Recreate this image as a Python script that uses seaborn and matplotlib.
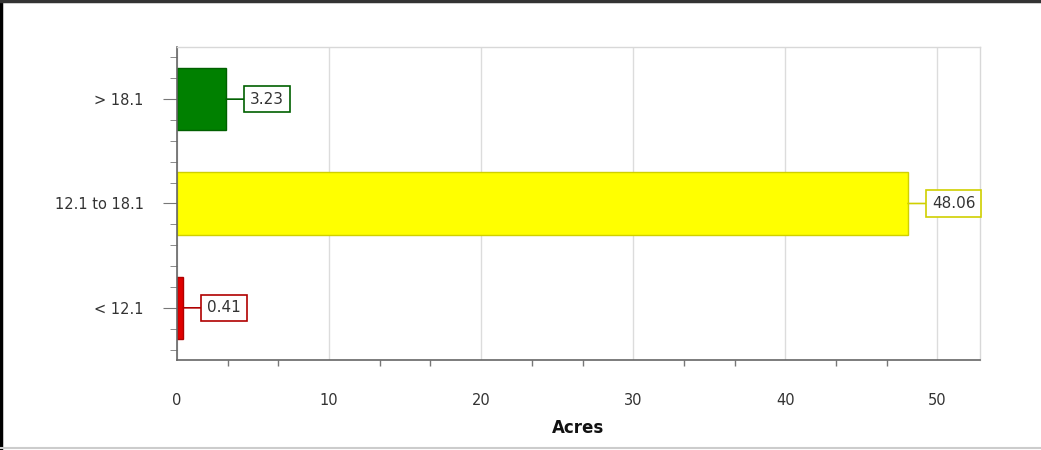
import pandas as pd
import seaborn as sns
import matplotlib.pyplot as plt
from matplotlib.lines import Line2D
from matplotlib.ticker import MultipleLocator

categories = ['> 18.1', '12.1 to 18.1', '< 12.1']
acres = [3.23, 48.06, 0.41]
bar_colors = ['#008000', '#ffff00', '#e00000']
edge_colors = ['#006000', '#d0d000', '#b00000']

df = pd.DataFrame({'cat': categories, 'acres': acres})

sns.set_style('white')
plt.rcParams['font.family'] = ['DejaVu Sans']

fig = plt.figure(figsize=(10.41, 4.5), dpi=100)
ax = fig.add_axes([0.170, 0.2, 0.7714, 0.6956])

sns.barplot(data=df, y='cat', x='acres', hue='cat', palette=bar_colors,
            orient='h', width=0.6, legend=False, ax=ax, saturation=1)

for bar, ec in zip(ax.patches, edge_colors):
    bar.set_edgecolor(ec)
    bar.set_linewidth(1)

for i, (v, fc, ec) in enumerate(zip(acres, bar_colors, edge_colors)):
    ax.annotate(f'{v:.2f}', xy=(v, i), xytext=(24, 0), textcoords='offset pixels',
                ha='left', va='center', fontsize=11, color='#333333',
                bbox=dict(boxstyle='square,pad=0.38', fc='white', ec=ec, lw=1.2),
                arrowprops=dict(arrowstyle='-', color=ec, lw=1.2, shrinkA=0, shrinkB=0))

ax.set_xlim(0, 52.8)
ax.set_ylim(2.5, -0.5)
ax.xaxis.set_major_locator(MultipleLocator(10))
ax.xaxis.set_minor_locator(MultipleLocator(10 / 3))
ax.yaxis.set_minor_locator(MultipleLocator(0.2))
ax.grid(axis='x', which='major', color='#dcdcdc', lw=1)
ax.set_axisbelow(True)

ax.tick_params(axis='x', which='major', length=0, pad=24, labelsize=10.5,
               labelcolor='#333333', bottom=True)
ax.tick_params(axis='x', which='minor', length=4, width=1, color='#777777',
               direction='out', bottom=True)
ax.tick_params(axis='y', which='major', length=10, color='#777777', pad=14,
               labelsize=10.5, labelcolor='#333333', left=True)
ax.tick_params(axis='y', which='minor', length=5, color='#777777', left=True)

for s in ['left', 'bottom']:
    ax.spines[s].set_color('#666666')
    ax.spines[s].set_linewidth(1.2)
for s in ['top', 'right']:
    ax.spines[s].set_color('#d8d8d8')
    ax.spines[s].set_linewidth(1)

ax.set_ylabel('')
ax.set_xlabel('Acres', fontsize=12, fontweight='bold', color='#111111', labelpad=8)

fig.add_artist(Line2D([0.001, 0.001], [0, 1], color='black', lw=2.5, transform=fig.transFigure))
fig.add_artist(Line2D([0, 1], [0.998, 0.998], color='#333333', lw=2.5, transform=fig.transFigure))
fig.add_artist(Line2D([0, 1], [0.004, 0.004], color='#cccccc', lw=1.5, transform=fig.transFigure))

fig.savefig('out.png', dpi=100)
